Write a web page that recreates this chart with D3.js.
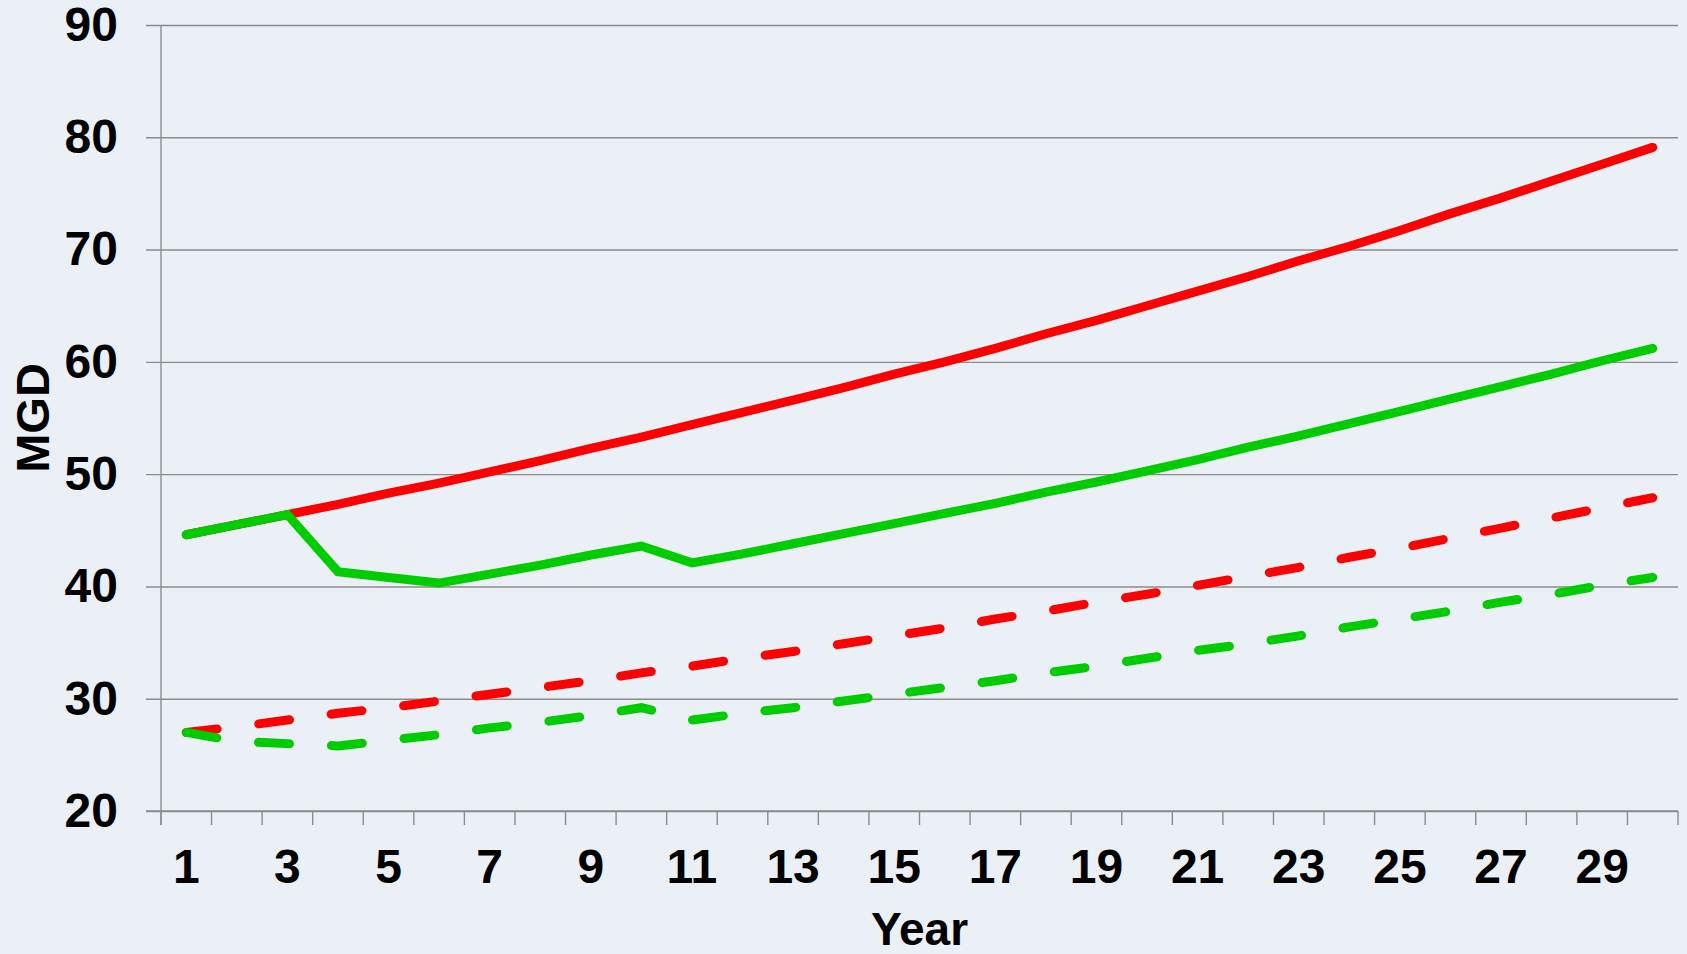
<!DOCTYPE html>
<html>
<head>
<meta charset="utf-8">
<script src="https://cdn.jsdelivr.net/npm/d3@7"></script>
<style>
  html, body { margin: 0; padding: 0; background: #EBF0F7; }
  svg { display: block; }
  text { font-family: "Liberation Sans", Arial, sans-serif; font-weight: bold; fill: #000; }
</style>
</head>
<body>
<script>
// ---- data ----
const years = [1,2,3,4,5,6,7,8,9,10,11,12,13,14,15,16,17,18,19,20,21,22,23,24,25,26,27,28,29,30];
const xTickLabels = [1,3,5,7,9,11,13,15,17,19,21,23,25,27,29];
const yTicks = [20,30,40,50,60,70,80,90];

const redSolid    = [44.6,45.5,46.4,47.3,48.3,49.2,50.2,51.2,52.3,53.3,54.4,55.5,56.6,57.7,58.9,60.0,61.2,62.5,63.7,65.0,66.3,67.6,69.0,70.3,71.7,73.2,74.6,76.1,77.6,79.1];
const greenSolid  = [44.6,45.5,46.4,41.3,40.8,40.3,41.1,41.9,42.8,43.6,42.1,42.9,43.8,44.7,45.6,46.5,47.4,48.4,49.3,50.3,51.3,52.4,53.4,54.5,55.6,56.7,57.8,58.9,60.1,61.2];
const redDashed   = [27.0,27.5,28.1,28.7,29.2,29.8,30.4,31.0,31.6,32.3,32.9,33.6,34.2,34.9,35.6,36.3,37.1,37.8,38.6,39.3,40.1,40.9,41.7,42.6,43.4,44.3,45.2,46.1,47.0,47.9];
const greenDashed = [27.0,26.2,26.0,25.8,26.3,26.8,27.4,27.9,28.5,29.2,28.1,28.7,29.2,29.8,30.4,31.0,31.6,32.3,32.9,33.6,34.3,34.9,35.6,36.4,37.1,37.8,38.6,39.3,40.1,40.8];

const seriesList = [
  { values: redSolid,    color: "#FF0000", dash: null },
  { values: redDashed,   color: "#FF0000", dash: "31,42" },
  { values: greenSolid,  color: "#00CC00", dash: null },
  { values: greenDashed, color: "#00CC00", dash: "31,42" }
];

// ---- layout ----
const W = 1687, H = 954;
const plotL = 161, plotR = 1678, plotT = 25, plotB = 811;
const gridL = 146;

const svg = d3.select("body").append("svg").attr("width", W).attr("height", H);
svg.append("rect").attr("width", W).attr("height", H).attr("fill", "#EBF0F7");

const x = d3.scaleBand().domain(years).range([plotL, plotR]).padding(0);
const y = d3.scaleLinear().domain([20, 90]).range([plotB, plotT]);
const gridColor = "#8C8C8C";

// y gridlines + labels
const yAxis = d3.axisLeft(y).tickValues(yTicks).tickSizeInner(-(plotR - gridL)).tickSizeOuter(0).tickPadding(28);
const gy = svg.append("g").attr("transform", `translate(${gridL},0)`).call(yAxis);
gy.select(".domain").remove();
gy.selectAll(".tick line").attr("stroke", gridColor).attr("stroke-width", 1.4);
gy.selectAll(".tick text").attr("font-size", 48).attr("font-family", "Liberation Sans, Arial, sans-serif").attr("font-weight", "bold").attr("fill", "#000");

// y axis line
svg.append("line").attr("x1", plotL).attr("x2", plotL).attr("y1", plotT).attr("y2", plotB + 14)
  .attr("stroke", gridColor).attr("stroke-width", 1.4);

// x axis line
svg.append("line").attr("x1", gridL).attr("x2", plotR).attr("y1", plotB).attr("y2", plotB)
  .attr("stroke", gridColor).attr("stroke-width", 1.4);

// x ticks at band boundaries
const edges = years.map(d => x(d)).concat([x(years[years.length - 1]) + x.bandwidth()]);
svg.append("g").selectAll("line").data(edges).join("line")
  .attr("x1", d => d).attr("x2", d => d).attr("y1", plotB).attr("y2", plotB + 14)
  .attr("stroke", gridColor).attr("stroke-width", 1.4);

// x labels
const xAxis = d3.axisBottom(x).tickValues(xTickLabels).tickSize(0).tickPadding(38);
const gx = svg.append("g").attr("transform", `translate(0,${plotB})`).call(xAxis);
gx.select(".domain").remove();
gx.selectAll(".tick text").attr("font-size", 48).attr("font-family", "Liberation Sans, Arial, sans-serif").attr("font-weight", "bold").attr("fill", "#000");

// lines
const line = d3.line().x((d, i) => x(years[i]) + x.bandwidth() / 2).y(d => y(d));
seriesList.forEach(s => {
  const p = svg.append("path").datum(s.values)
    .attr("d", line)
    .attr("fill", "none")
    .attr("stroke", s.color)
    .attr("stroke-width", 9)
    .attr("stroke-linecap", "round")
    .attr("stroke-linejoin", "miter");
  if (s.dash) p.attr("stroke-dasharray", s.dash);
});

// axis titles
svg.append("text").attr("x", (plotL + plotR) / 2).attr("y", 945)
  .attr("text-anchor", "middle").attr("font-size", 46).text("Year");
svg.append("text").attr("transform", `translate(49,${(plotT + plotB) / 2}) rotate(-90)`)
  .attr("text-anchor", "middle").attr("font-size", 47).text("MGD");
</script>
</body>
</html>
